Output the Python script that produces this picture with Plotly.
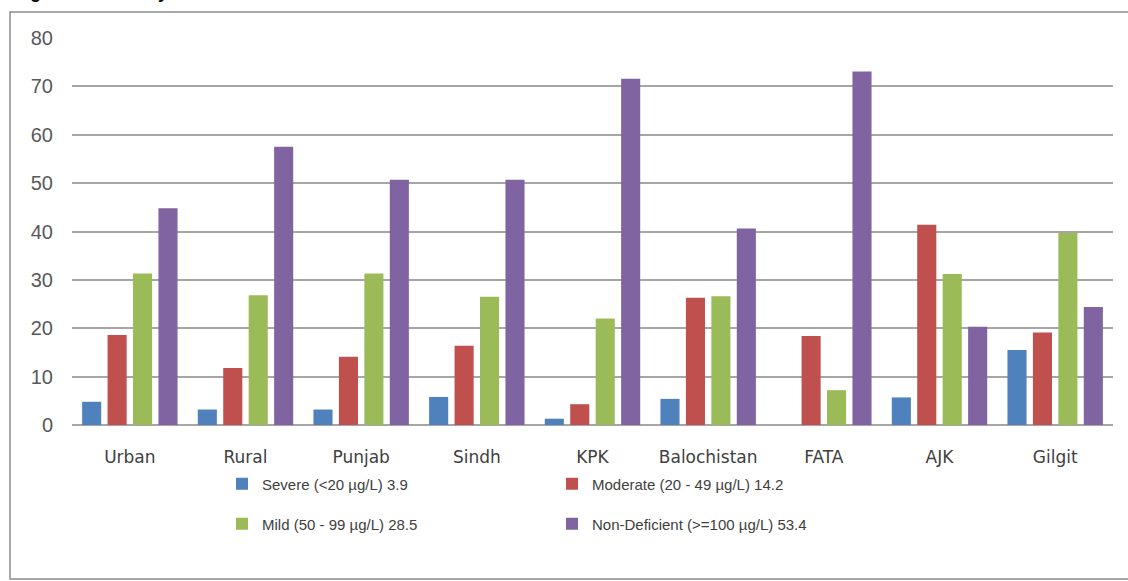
import plotly.graph_objects as go

categories = ["Urban", "Rural", "Punjab", "Sindh", "KPK", "Balochistan", "FATA", "AJK", "Gilgit"]
severe = [4.8, 3.2, 3.2, 5.8, 1.3, 5.4, 0.0, 5.7, 15.5]
moderate = [18.6, 11.8, 14.1, 16.4, 4.3, 26.3, 18.4, 41.4, 19.1]
mild = [31.3, 26.8, 31.3, 26.5, 22.0, 26.6, 7.2, 31.2, 39.7]
non_deficient = [44.8, 57.5, 50.7, 50.7, 71.6, 40.6, 73.1, 20.3, 24.4]

series_names = [
    "Severe (<20 µg/L) 3.9",
    "Moderate (20 - 49 µg/L) 14.2",
    "Mild (50 - 99 µg/L) 28.5",
    "Non-Deficient (>=100 µg/L) 53.4",
]
series_values = [severe, moderate, mild, non_deficient]
colors = ["#4F81BD", "#C0504D", "#9BBB59", "#8064A2"]
legend_ids = ["legend", "legend", "legend2", "legend2"]

W, H = 1128, 581
L, R, T, B = 72, 15, 38, 156
pw = W - L - R
ph = H - T - B

def px_x(x):
    return (x - L) / pw

def px_y(y):
    return (H - B - y) / ph

fig = go.Figure()
for name, vals, col, lg in zip(series_names, series_values, colors, legend_ids):
    fig.add_trace(go.Bar(x=categories, y=vals, name=name, marker_color=col,
                         marker_line_width=0, legend=lg))

legend_common = dict(orientation="h", xanchor="left", yanchor="middle",
                     entrywidth=285, entrywidthmode="pixels",
                     font=dict(family="Liberation Sans", size=15, color="#404040"),
                     bgcolor="rgba(0,0,0,0)", itemclick=False, tracegroupgap=0)

fig.update_layout(
    width=W, height=H,
    margin=dict(l=L, r=R, t=T, b=B, pad=0),
    paper_bgcolor="white", plot_bgcolor="white",
    barmode="group", bargap=0.12, bargroupgap=0.25,
    showlegend=True,
    legend=dict(x=px_x(222), y=px_y(484), **legend_common),
    legend2=dict(x=px_x(222), y=px_y(524), **legend_common),
    xaxis=dict(showgrid=False, showline=False, zeroline=False,
               tickfont=dict(family="DejaVu Sans", size=17, color="#404040"),
               ticklabelstandoff=20),
    yaxis=dict(range=[0, 80], dtick=10, showgrid=True, gridcolor="#A6A6A6",
               gridwidth=1.5, zeroline=True, zerolinecolor="#A6A6A6", zerolinewidth=1.5,
               showline=False,
               tickfont=dict(family="Liberation Sans", size=20, color="#595959"),
               ticklabelstandoff=18),
    shapes=[dict(type="rect", xref="paper", yref="paper",
                 x0=px_x(10), x1=px_x(1140), y0=px_y(579), y1=px_y(12),
                 line=dict(color="#8C8C8C", width=1.5), fillcolor="rgba(0,0,0,0)",
                 layer="below")],
    annotations=[dict(text="<b>Figure 12: Urinary iodine concentration</b>",
                      xref="paper", yref="paper", x=px_x(12), y=px_y(4),
                      xanchor="left", yanchor="bottom", showarrow=False,
                      font=dict(family="Liberation Sans", size=18, color="black"))],
)

fig.write_html("out.html", config={"displayModeBar": False},
               post_script="document.body.style.margin='0px';document.body.style.overflow='hidden';")
